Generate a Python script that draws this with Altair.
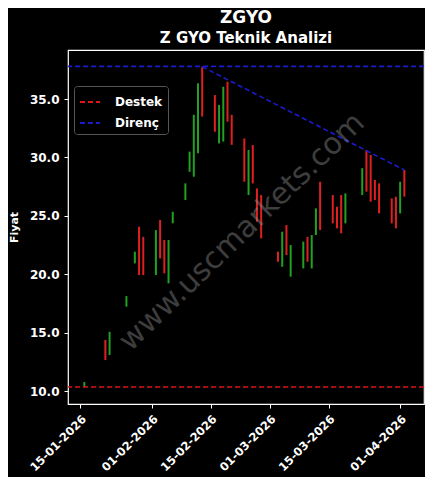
import altair as alt
import pandas as pd

dates = ["2026-01-16", "2026-01-21", "2026-01-22", "2026-01-26", "2026-01-28", "2026-01-29",
         "2026-01-30", "2026-02-02", "2026-02-03", "2026-02-04", "2026-02-05", "2026-02-06",
         "2026-02-09", "2026-02-10", "2026-02-11", "2026-02-12", "2026-02-13", "2026-02-16",
         "2026-02-17", "2026-02-18", "2026-02-19", "2026-02-20", "2026-02-23", "2026-02-24",
         "2026-02-25", "2026-02-26", "2026-02-27", "2026-03-03", "2026-03-04", "2026-03-05",
         "2026-03-06", "2026-03-09", "2026-03-10", "2026-03-11", "2026-03-12", "2026-03-13",
         "2026-03-16", "2026-03-17", "2026-03-18", "2026-03-19", "2026-03-23", "2026-03-24",
         "2026-03-25", "2026-03-26", "2026-03-27", "2026-03-30", "2026-03-31", "2026-04-01",
         "2026-04-02"]
opens = [10.34, 14.37, 13.08, 17.22, 20.93, 24.07,
         23.20, 19.93, 24.64, 22.93, 19.22, 24.36,
         26.35, 28.77, 28.35, 30.36, 37.77, 35.34,
         31.20, 31.36, 36.48, 33.65, 31.63, 26.78,
         31.06, 27.35, 26.78, 21.93, 20.64, 24.21,
         19.79, 20.50, 23.21, 20.50, 23.36, 27.92,
         26.78, 25.78, 26.78, 24.36, 26.78, 30.64,
         30.21, 28.07, 27.78, 26.49, 26.64, 25.21,
         28.92]
closes = [10.77, 12.65, 15.07, 18.13, 21.93, 19.93,
          19.93, 23.78, 21.36, 20.08, 22.93, 25.35,
          27.78, 30.50, 33.65, 36.35, 33.50, 32.20,
          34.49, 36.05, 33.06, 31.08, 27.92, 30.64,
          27.78, 24.50, 23.07, 21.07, 23.64, 21.64,
          22.50, 22.79, 21.07, 23.36, 25.64, 23.78,
          24.36, 23.93, 23.50, 26.92, 29.08, 27.07,
          26.21, 26.35, 25.21, 24.36, 23.93, 27.92,
          26.64]

support = 10.34
resistance = 37.8
trend_dates = ["2026-02-13", "2026-04-02"]
trend_values = [37.77, 28.92]

df = pd.DataFrame({"date": pd.to_datetime(dates), "open": opens, "close": closes})
df["dir"] = ["up" if c >= o else "down" for o, c in zip(opens, closes)]

x_dom = [pd.Timestamp("2026-01-12T03:00:00").isoformat(), pd.Timestamp("2026-04-06T16:00:00").isoformat()]
y_dom = [8.89, 39.2]

xscale = alt.Scale(domain=x_dom)
yscale = alt.Scale(domain=y_dom, nice=False, zero=False)

xaxis = alt.Axis(format="%d-%m-%Y", labelAngle=-45, labelAlign="right", labelBaseline="top",
                 values=[pd.Timestamp(d).isoformat() for d in ["2026-01-15", "2026-02-01", "2026-02-15",
                                                               "2026-03-01", "2026-03-15", "2026-04-01"]],
                 title=None, grid=False, labelColor="white", tickColor="white", domain=False,
                 labelFont="DejaVu Sans", labelFontWeight="bold", labelFontSize=11.5,
                 labelOverlap=False, tickSize=4, labelPadding=5)
yaxis = alt.Axis(format=".1f", values=[10, 15, 20, 25, 30, 35], title="Fiyat", grid=False,
                 labelColor="white", tickColor="white", domain=False, titleColor="white",
                 labelFont="DejaVu Sans", labelFontWeight="bold", labelFontSize=12,
                 titleFont="DejaVu Sans", titleFontWeight="bold", titleFontSize=11,
                 tickSize=4, labelPadding=5, titlePadding=10)

candles = alt.Chart(df).mark_rule(strokeWidth=2).encode(
    x=alt.X("date:T", scale=xscale, axis=xaxis),
    y=alt.Y("open:Q", scale=yscale, axis=yaxis),
    y2="close:Q",
    color=alt.Color("dir:N", scale=alt.Scale(domain=["up", "down"], range=["#22a022", "#e02020"]), legend=None),
)

lines_df = pd.DataFrame({"label": ["Destek", "Direnç"], "value": [support, resistance]})
hlines = alt.Chart(lines_df).mark_rule(strokeWidth=1.6, strokeDash=[5, 3]).encode(
    y=alt.Y("value:Q", scale=yscale),
    stroke=alt.Stroke("label:N", scale=alt.Scale(domain=["Destek", "Direnç"], range=["#dd1515", "#1a1ad0"]),
                      legend=alt.Legend(title=None, orient="none", legendX=6, legendY=36,
                                        symbolType="stroke", symbolDash=[5, 3], symbolStrokeWidth=2,
                                        symbolSize=400, labelColor="white", labelFont="DejaVu Sans",
                                        labelFontWeight="bold", labelFontSize=12, labelOffset=14,
                                        fillColor="black", strokeColor="#555555", cornerRadius=3,
                                        padding=5, rowPadding=4)),
)

trend_df = pd.DataFrame({"date": pd.to_datetime(trend_dates), "value": trend_values})
trend = alt.Chart(trend_df).mark_line(strokeWidth=1.6, strokeDash=[5, 3], color="#1a1ad0").encode(
    x=alt.X("date:T", scale=xscale), y=alt.Y("value:Q", scale=yscale)
)

wm = alt.Chart(pd.DataFrame({"t": ["www.uscmarkets.com"]})).mark_text(
    font="DejaVu Sans", fontSize=30, angle=316, color="#888888", opacity=0.45, align="center", baseline="middle"
).encode(text="t:N", x=alt.value(174), y=alt.value(182))

chart = alt.layer(candles, hlines, trend, wm).properties(
    width=356, height=354, background="black",
    autosize=alt.AutoSizeParams(type="none"),
    padding={"left": 60, "top": 42, "right": 1, "bottom": 73},
    title=alt.TitleParams(text="ZGYO", subtitle="Z GYO Teknik Analizi", color="white", subtitleColor="white",
                          font="DejaVu Sans", subtitleFont="DejaVu Sans", fontSize=17, subtitleFontSize=15,
                          fontWeight="bold", subtitleFontWeight="bold", anchor="middle", offset=3,
                          subtitlePadding=4),
).configure_view(stroke="white", strokeWidth=1.2, fill="black")

chart.save("out.html", embed_options={"renderer": "svg", "actions": False})
